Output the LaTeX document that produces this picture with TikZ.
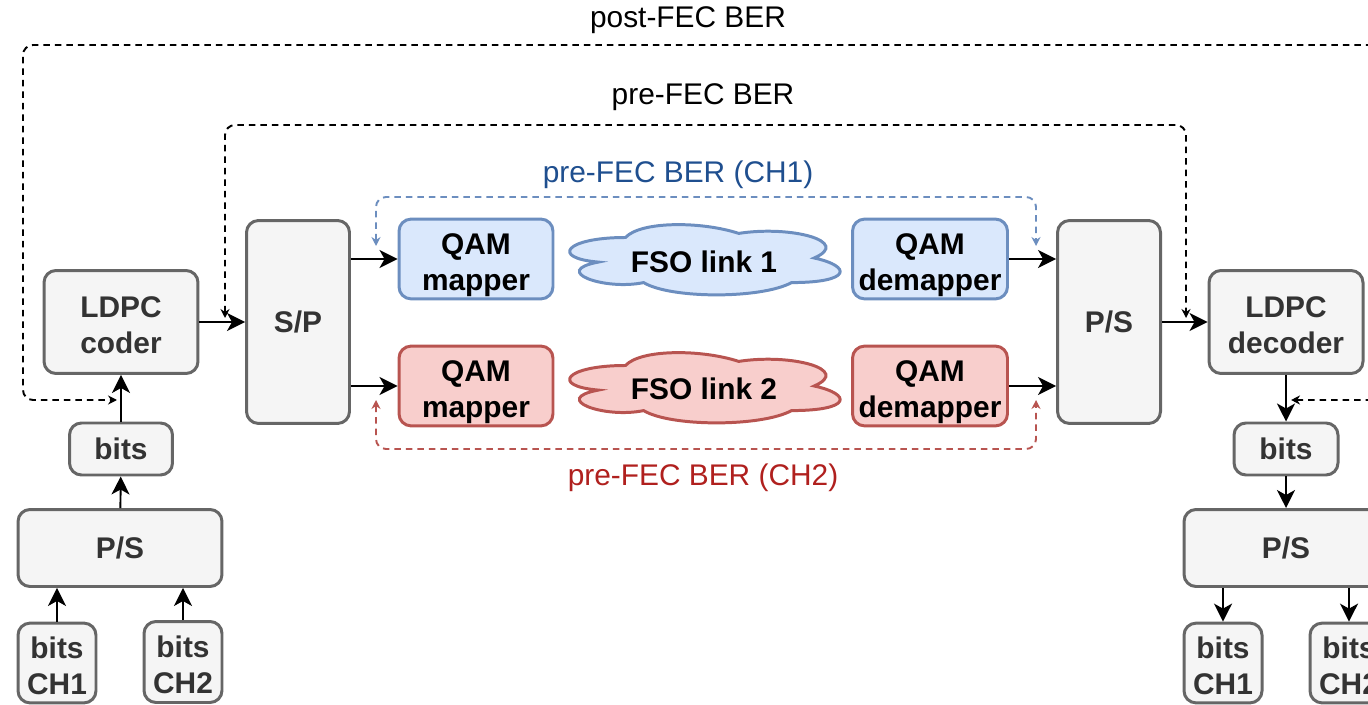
\documentclass[tikz,border=0pt]{standalone}
\usepackage{fontspec}
\setmainfont{Liberation Sans}
\usetikzlibrary{arrows.meta, positioning}

\definecolor{grayfill}{HTML}{F5F5F5}
\definecolor{grayline}{HTML}{666666}
\definecolor{graytext}{HTML}{333333}
\definecolor{bluefill}{HTML}{DAE8FC}
\definecolor{blueline}{HTML}{6C8EBF}
\definecolor{bluetext}{HTML}{1F4F8F}
\definecolor{redfill}{HTML}{F8CECC}
\definecolor{redline}{HTML}{B85450}
\definecolor{redtext}{HTML}{B0201E}

% two text lines, centred the way the boxes centre them
\newcommand{\twolines}[2]{\rule{0pt}{20.4pt}#1\\#2\rule[-5pt]{0pt}{5pt}}

\tikzset{
  blk/.style={draw=grayline, fill=grayfill, line width=1.7pt, rounded corners=0.24cm,
    align=center, inner sep=0pt, text=graytext, font=\fontsize{17}{20}\selectfont\bfseries},
  chA/.style={blk, draw=blueline, fill=bluefill, text=black},
  chB/.style={blk, draw=redline, fill=redfill, text=black},
  fsotext/.style={inner sep=0pt, font=\fontsize{17}{20}\selectfont\bfseries},
  fsocloud/.pic={
    \begin{scope}[x=6.04cm, y=-1.64cm]
    \path[pic actions] (0.25,0.25) .. controls (0.05,0.25) and (0,0.5) .. (0.16,0.55)
      .. controls (0,0.66) and (0.18,0.9) .. (0.31,0.8)
      .. controls (0.4,1) and (0.7,1) .. (0.8,0.8)
      .. controls (1,0.8) and (1,0.6) .. (0.875,0.5)
      .. controls (1,0.3) and (0.8,0.1) .. (0.625,0.2)
      .. controls (0.5,0.05) and (0.3,0.05) .. (0.25,0.25) -- cycle;
    \end{scope}},
  flow/.style={-{Stealth[length=0.36cm, width=0.36cm, inset=0.1cm]}, line width=1.1pt},
  ber/.style={{Stealth[length=0.18cm, width=0.18cm]}-{Stealth[length=0.18cm, width=0.18cm]},
    line width=1.1pt, dash pattern=on 0.13cm off 0.1cm, rounded corners=0.2cm},
  lbl/.style={font=\fontsize{17}{20}\selectfont}
}

\begin{document}
\begin{tikzpicture}[x=0.02cm, y=-0.02cm]
\useasboundingbox (0,0) rectangle (1368,705);

% transmitter
\node[blk, minimum width=3.08cm, minimum height=2.06cm] (coder) at (121,322) {\twolines{LDPC}{coder}};
\node[blk, minimum width=2.06cm, minimum height=1.04cm] (bitsTx) at (121,449) {bits};
\node[blk, minimum width=4.08cm, minimum height=1.54cm] (psTx) at (120,548) {P/S};
\node[blk, minimum width=1.56cm, minimum height=1.58cm] (ch1Tx) at (57,663) {\twolines{bits}{CH1}};
\node[blk, minimum width=1.56cm, minimum height=1.62cm] (ch2Tx) at (183,662) {\twolines{bits}{CH2}};
\node[blk, minimum width=2.06cm, minimum height=4.06cm] (sp) at (298,322) {S/P};

% channel 1 and 2
\node[chA, minimum width=3.08cm, minimum height=1.56cm] (map1) at (476,259) {\twolines{QAM}{mapper}};
\node[chB, minimum width=3.08cm, minimum height=1.56cm] (map2) at (476,386) {\twolines{QAM}{mapper}};
\pic[draw=blueline, fill=bluefill, line width=1.7pt] at (550,217) {fsocloud};
\pic[draw=redline, fill=redfill, line width=1.7pt] at (550,345) {fsocloud};
\node[fsotext] (link1) at (704,262) {FSO link 1};
\node[fsotext] (link2) at (704,389) {FSO link 2};
\node[chA, minimum width=3.1cm, minimum height=1.56cm] (demap1) at (930,259) {\twolines{QAM}{demapper}};
\node[chB, minimum width=3.1cm, minimum height=1.56cm] (demap2) at (930,386) {\twolines{QAM}{demapper}};

% receiver
\node[blk, minimum width=2.06cm, minimum height=4.06cm] (psRx) at (1109,322) {P/S};
\node[blk, minimum width=3.08cm, minimum height=2.06cm] (decoder) at (1286,322) {\twolines{LDPC}{decoder}};
\node[blk, minimum width=2.08cm, minimum height=1.04cm] (bitsRx) at (1286,449) {bits};
\node[blk, minimum width=4.08cm, minimum height=1.54cm] (psOut) at (1286,548) {P/S};
\node[blk, minimum width=1.56cm, minimum height=1.58cm] (ch1Rx) at (1223,663) {\twolines{bits}{CH1}};
\node[blk, minimum width=1.56cm, minimum height=1.58cm] (ch2Rx) at (1349,663) {\twolines{bits}{CH2}};

% data path
\draw[flow] (ch1Tx.north) -- (ch1Tx.north |- psTx.south);
\draw[flow] (ch2Tx.north) -- (ch2Tx.north |- psTx.south);
\draw[flow] (psTx) -- (bitsTx);
\draw[flow] (bitsTx) -- (coder);
\draw[flow] (coder) -- (coder -| sp.west);
\draw[flow] (sp.east |- map1) -- (map1);
\draw[flow] (sp.east |- map2) -- (map2);
\draw[flow] (demap1) -- (demap1 -| psRx.west);
\draw[flow] (demap2) -- (demap2 -| psRx.west);
\draw[flow] (psRx) -- (decoder);
\draw[flow] (decoder) -- (bitsRx);
\draw[flow] (bitsRx) -- (psOut);
\draw[flow] (ch1Rx.north |- psOut.south) -- (ch1Rx.north);
\draw[flow] (ch2Rx.north |- psOut.south) -- (ch2Rx.north);

% BER measurement points
\coordinate (postL) at (117,400);
\coordinate (postR) at (1291,400);
\coordinate (preL) at (225,318);
\coordinate (preR) at (1186,318);
\coordinate (ch1L) at (376,246);
\coordinate (ch1R) at (1036,246);
\coordinate (ch2L) at (376,400);
\coordinate (ch2R) at (1036,400);

\draw[ber] (postR) -- (1420,400) -- (1420,45) -- (23,45) -- (23,400) -- (postL);
\draw[ber] (preL) -- (225,125) -- (1186,125) -- (preR);
\draw[ber, blueline] (ch1L) -- (376,197) -- (1036,197) -- (ch1R);
\draw[ber, redline] (ch2L) -- (376,449) -- (1036,449) -- (ch2R);

\node[lbl] (postBer) at (688,20) {post-FEC BER};
\node[lbl] (preBer) at (703,97) {pre-FEC BER};
\node[lbl, text=bluetext] (preBer1) at (678,175) {pre-FEC BER (CH1)};
\node[lbl, text=redtext] (preBer2) at (703,478) {pre-FEC BER (CH2)};
\end{tikzpicture}
\end{document}
